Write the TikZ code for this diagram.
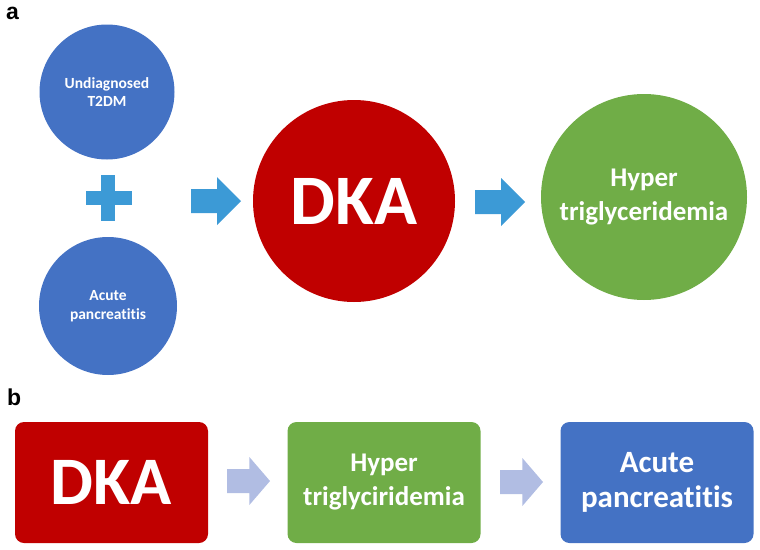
\documentclass[tikz,border=0pt]{standalone}
\usepackage{fontspec}
\setmainfont{Carlito}[Ligatures=NoCommon]
\newfontfamily\panelfont{Liberation Sans}
\usetikzlibrary{positioning}

\definecolor{officeblue}{HTML}{4472C4}
\definecolor{officered}{HTML}{C00000}
\definecolor{officegreen}{HTML}{70AD47}
\definecolor{arrowblue}{HTML}{3C9AD6}
\definecolor{arrowpale}{HTML}{B1BDE3}

\tikzset{
  bubble/.style={circle, inner sep=0pt, text=white, align=center, font=\bfseries},
  card/.style={rectangle, rounded corners=9pt, inner sep=0pt, minimum width=193pt,
    minimum height=121pt, text=white, align=center, font=\bfseries},
  panel/.style={font=\panelfont\bfseries\fontsize{23}{26}\selectfont, anchor=base west, inner sep=0pt},
  pics/blockarr/.style={code={
    \fill (-25,-12) -- (1,-12) -- (1,-24) -- (25,0) -- (1,24) -- (1,12) -- (-25,12) -- cycle;
  }}
}

\begin{document}
\begin{tikzpicture}[x=1pt, y=-1pt]

    \useasboundingbox (0,0) rectangle (760,549);

    % Panel a
    \node[panel] (lbla) at (6,19) {a};

    \node[bubble, fill=officeblue, minimum size=135pt,
          font=\bfseries\fontsize{15.5}{18.5}\selectfont] (t2dm) at (107,92) {Undiagnosed\\T2DM};
    \node[bubble, fill=officeblue, minimum size=138pt,
          font=\bfseries\fontsize{15.5}{18.5}\selectfont] (acute) at (108,306) {Acute\\pancreatitis};

    % plus sign
    \fill[arrowblue] (86,191) rectangle (132,205);
    \fill[arrowblue] (101,175) rectangle (115,221);

    \pic[fill=arrowblue] at (216,201) {blockarr};

    \node[bubble, fill=officered, minimum size=202pt,
          font=\bfseries\fontsize{71}{80}\selectfont] (dka) at (354,201) {DKA};

    \pic[fill=arrowblue] at (500,202) {blockarr};

    \node[bubble, fill=officegreen, minimum size=206pt,
          font=\bfseries\fontsize{27}{34}\selectfont] (hyper) at (644,197) {Hyper\\triglyceridemia};

    % Panel b
    \node[panel] (lblb) at (7,405) {b};

    \node[card, fill=officered, font=\bfseries\fontsize{68}{76}\selectfont] (dkab) at (111.5,482.5) {DKA};

    \pic[fill=arrowpale, xscale=0.86] at (248.5,481) {blockarr};

    \node[card, fill=officegreen, font=\bfseries\fontsize{27}{34}\selectfont] (hyperb) at (384,482.5) {Hyper\\triglyciridemia};

    \pic[fill=arrowpale, xscale=0.86] at (521.5,482) {blockarr};

    \node[card, fill=officeblue, font=\bfseries\fontsize{31}{35}\selectfont] (acuteb) at (657,482.5) {Acute\\pancreatitis};
\end{tikzpicture}
\end{document}
